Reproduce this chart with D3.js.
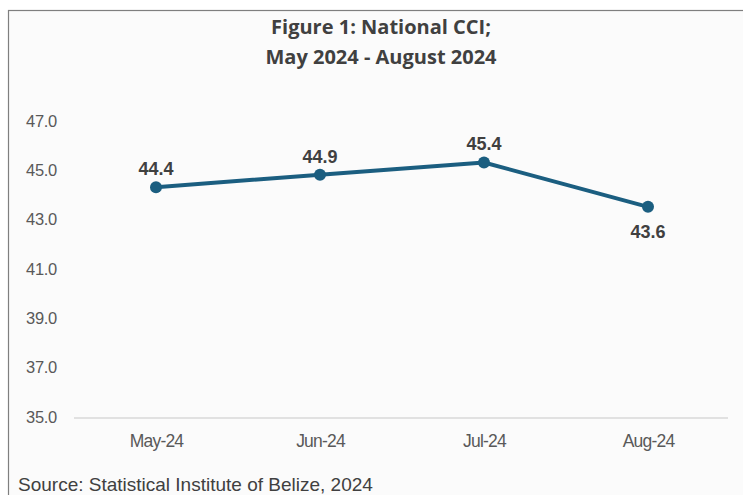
<!DOCTYPE html>
<html><head><meta charset="utf-8">
<script src="https://cdn.jsdelivr.net/npm/d3@7"></script>
<style>html,body{margin:0;padding:0;background:#fff;}svg{display:block;}</style>
</head><body>
<script>
const categories = ["May-24", "Jun-24", "Jul-24", "Aug-24"];
const cciValues = [44.4, 44.9, 45.4, 43.6];
const yTicks = [35, 37, 39, 41, 43, 45, 47];
const titleLines = ["Figure 1: National CCI;", "May 2024 - August 2024"];
const sourceText = "Source: Statistical Institute of Belize, 2024";

const W = 743, H = 495;
const svg = d3.select("body").append("svg").attr("width", W).attr("height", H);

svg.append("rect").attr("x", 8.5).attr("y", 10.5).attr("width", 800).attr("height", 600)
  .attr("fill", "#fbfbfb").attr("stroke", "#7f7f7f").attr("stroke-width", 1.2);

svg.selectAll("text.title").data(titleLines).join("text")
  .attr("class", "title")
  .attr("x", 381).attr("y", (d, i) => 34 + i * 30)
  .attr("text-anchor", "middle")
  .attr("font-family", "Open Sans, Noto Sans, sans-serif")
  .attr("font-weight", "bold").attr("font-size", 20)
  .attr("fill", "#404040").text(d => d);

const x = d3.scalePoint().domain(categories).range([156, 648]);
const y = d3.scaleLinear().domain([35, 47]).range([419, 123]);

// baseline
svg.append("line").attr("x1", 74).attr("x2", 728).attr("y1", 418).attr("y2", 418)
  .attr("stroke", "#d9d9d9").attr("stroke-width", 1.3);

const yAxis = d3.axisLeft(y).tickValues(yTicks).tickFormat(d3.format(".1f")).tickSize(0).tickPadding(0);
const gy = svg.append("g").attr("transform", "translate(57,-2)").call(yAxis);
gy.select(".domain").remove();
gy.selectAll("text").attr("font-family", "Liberation Sans, Arial, sans-serif")
  .attr("font-size", 16.5).attr("letter-spacing", "-0.3px").attr("fill", "#595959");

const xAxis = d3.axisBottom(x).tickSize(0).tickPadding(0);
const gx = svg.append("g").attr("transform", "translate(0,435)").call(xAxis);
gx.select(".domain").remove();
gx.selectAll("text").attr("font-family", "Liberation Sans, Arial, sans-serif")
  .attr("font-size", 17.5).attr("fill", "#595959").attr("letter-spacing", "-0.8px");

const line = d3.line().x((d, i) => x(categories[i])).y(d => y(d));
svg.append("path").datum(cciValues).attr("d", line)
  .attr("fill", "none").attr("stroke", "#1b5e80").attr("stroke-width", 4)
  .attr("stroke-linejoin", "round");

svg.selectAll("circle.pt").data(cciValues).join("circle")
  .attr("class", "pt")
  .attr("cx", (d, i) => x(categories[i])).attr("cy", d => y(d)).attr("r", 6)
  .attr("fill", "#1b5e80");

svg.selectAll("text.lbl").data(cciValues).join("text")
  .attr("class", "lbl")
  .attr("x", (d, i) => x(categories[i]))
  .attr("y", (d, i) => i === 3 ? y(d) + 31 : y(d) - 12)
  .attr("text-anchor", "middle")
  .attr("font-family", "Liberation Sans, Arial, sans-serif")
  .attr("font-weight", "bold").attr("font-size", 18)
  .attr("fill", "#404040").text(d => d3.format(".1f")(d));

svg.append("text").attr("x", 18).attr("y", 491)
  .attr("font-family", "Liberation Sans, Arial, sans-serif")
  .attr("font-size", 19).attr("fill", "#404040").text(sourceText);
</script>
</body></html>
